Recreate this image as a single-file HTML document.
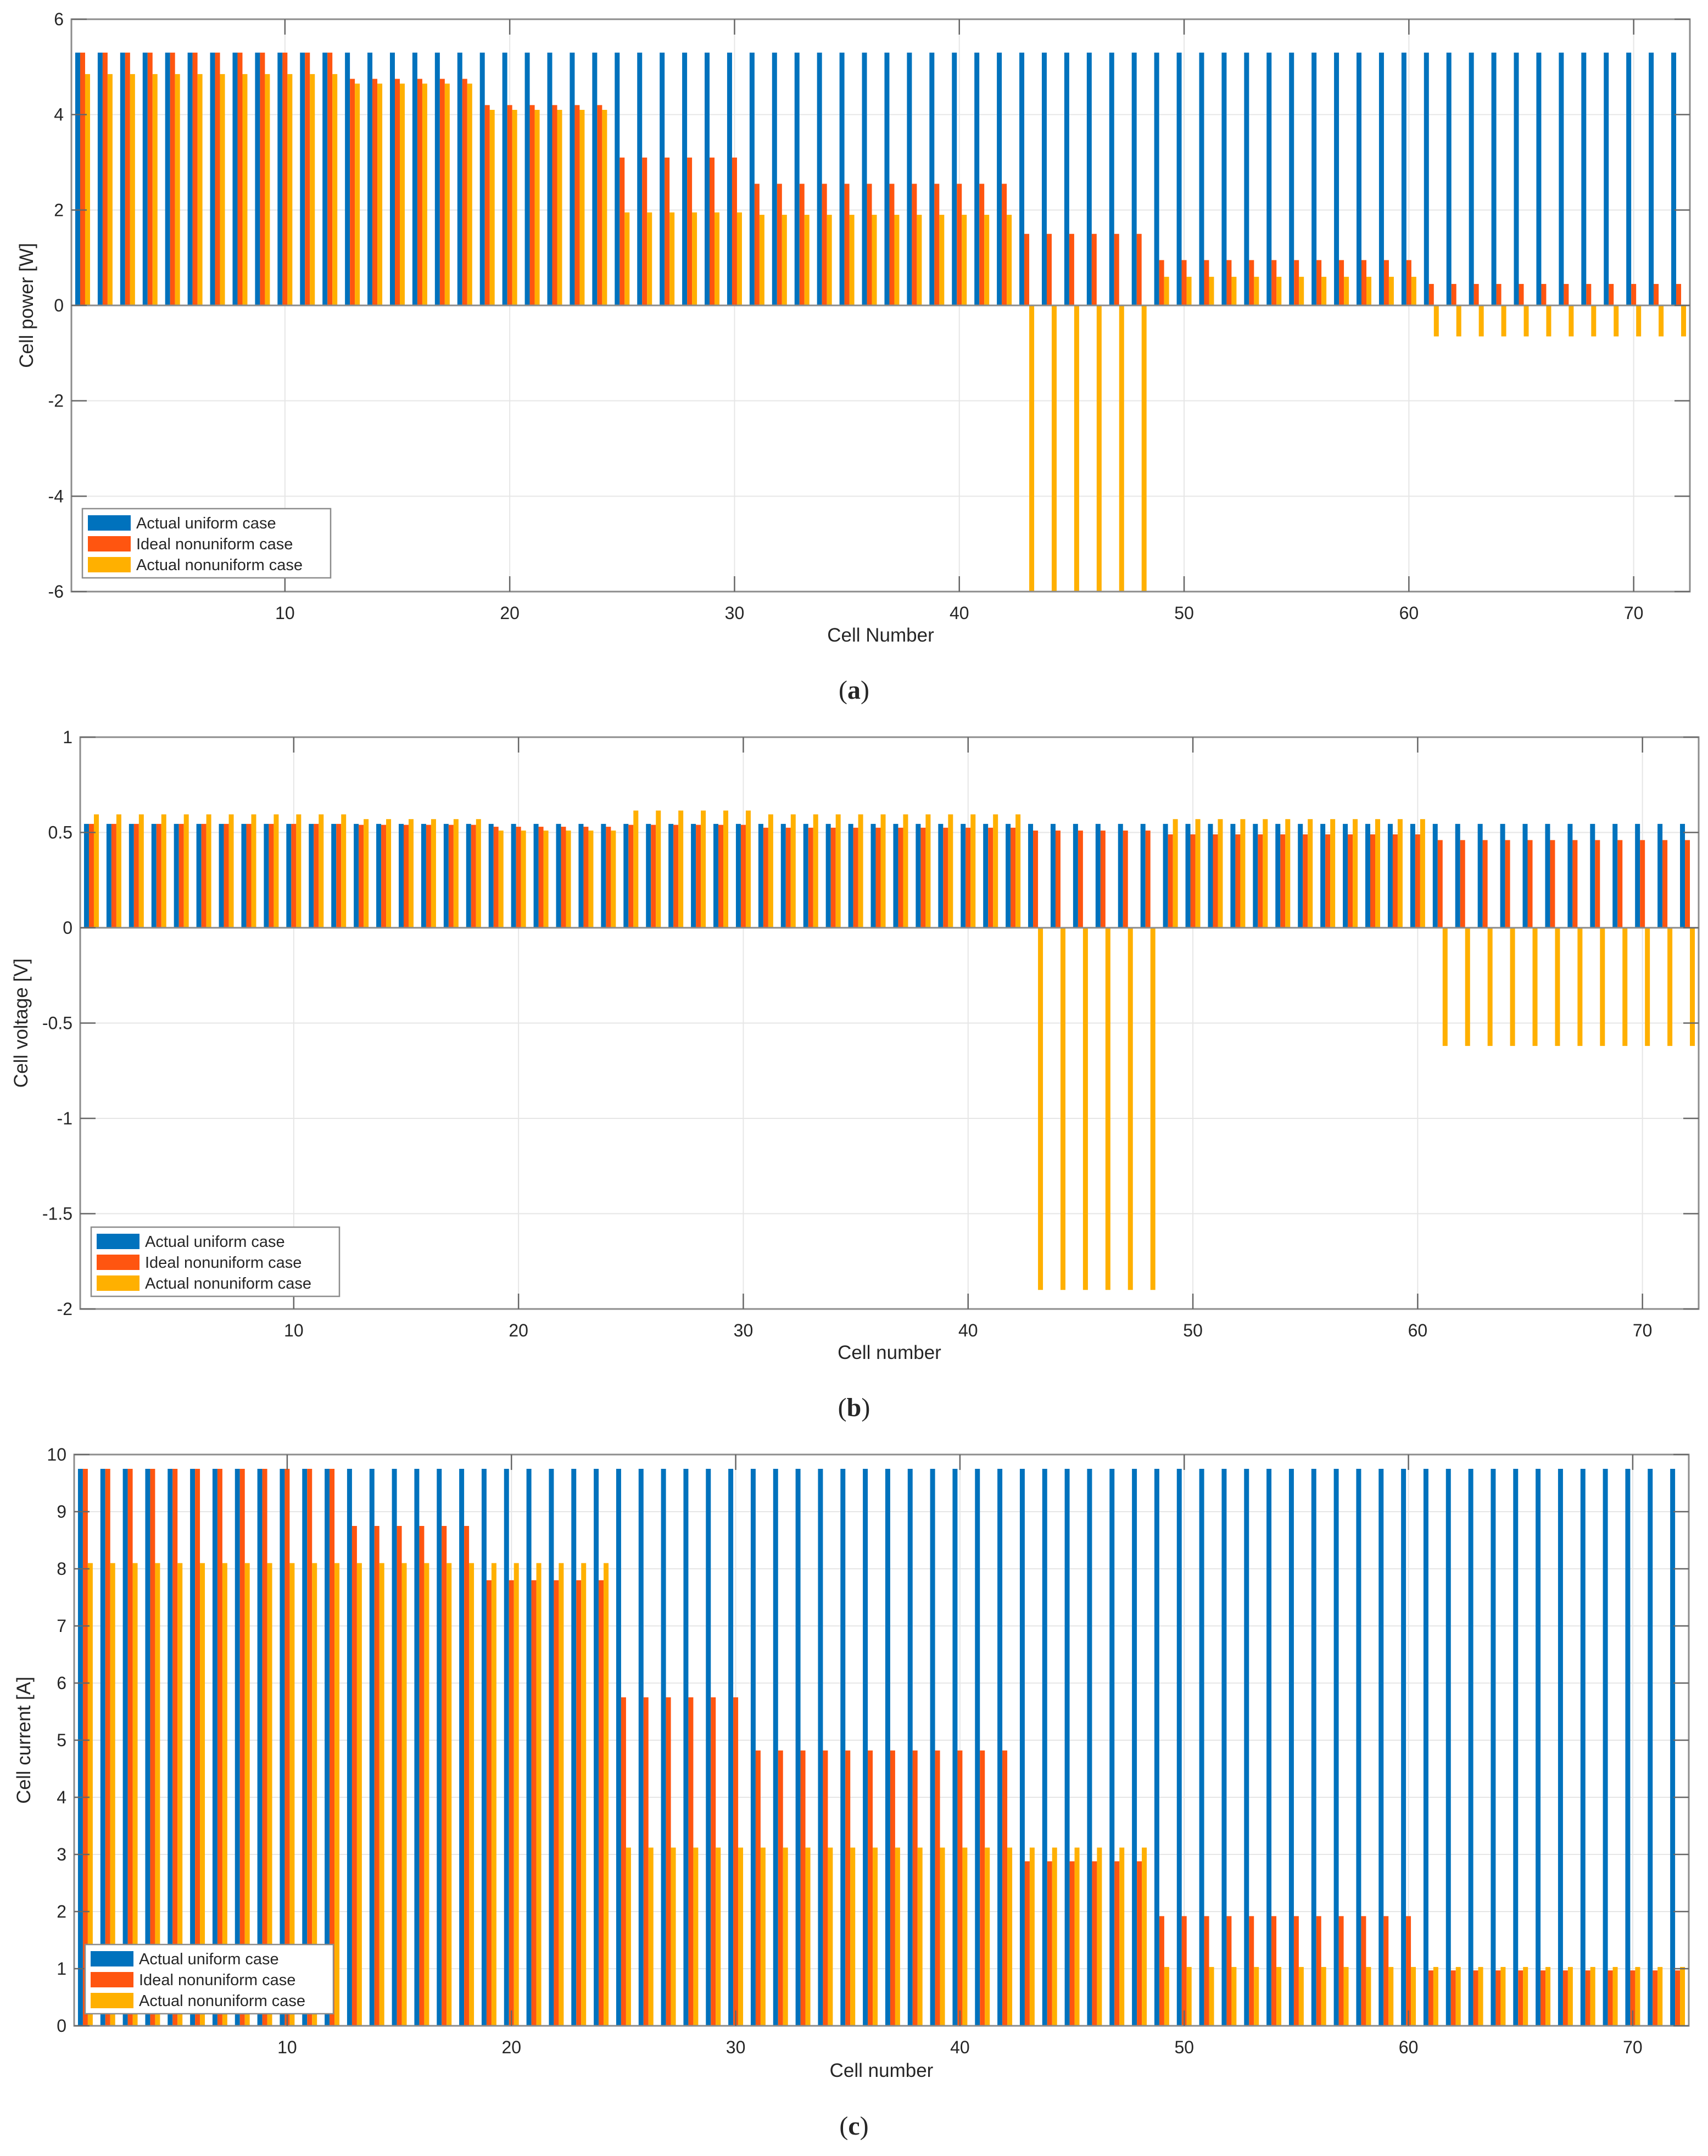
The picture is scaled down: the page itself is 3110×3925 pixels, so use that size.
<!DOCTYPE html>
<html><head><meta charset="utf-8"><style>
html,body{margin:0;padding:0;background:#fff}
svg{display:block}
text{font-family:"Liberation Sans",sans-serif;fill:#262626}
</style></head><body>
<svg id="fig" width="3110" height="3925" viewBox="0 0 3110 3925" xmlns="http://www.w3.org/2000/svg"></svg>
<script>
const cells = Array.from({length:72},(_,i)=>i+1);
const groupLevels = [1,13,19,25,31,43,49,61]; // group start cells
// power (W)
const powUniform = [5.3,5.3,5.3,5.3,5.3,5.3,5.3,5.3];
const powIdeal   = [5.3,4.75,4.2,3.1,2.55,1.5,0.95,0.45];
const powActual  = [4.85,4.65,4.1,1.95,1.9,-6.5,0.6,-0.65];
// voltage (V)
const volUniform = [0.545,0.545,0.545,0.545,0.545,0.545,0.545,0.545];
const volIdeal   = [0.545,0.54,0.53,0.54,0.525,0.51,0.49,0.46];
const volActual  = [0.595,0.57,0.51,0.615,0.595,-1.9,0.57,-0.62];
// current (A)
const curUniform = [9.75,9.75,9.75,9.75,9.75,9.75,9.75,9.75];
const curIdeal   = [9.75,8.75,7.8,5.75,4.82,2.88,1.92,0.97];
const curActual  = [8.1,8.1,8.1,3.12,3.12,3.12,1.03,1.03];
const xTicks = [10,20,30,40,50,60,70];
const powTicks = [-6,-4,-2,0,2,4,6];
const volTicks = [-2,-1.5,-1,-0.5,0,0.5,1];
const curTicks = [0,1,2,3,4,5,6,7,8,9,10];
const legendLabels = ["Actual uniform case","Ideal nonuniform case","Actual nonuniform case"];
const colors = ["#0072BD","#FF5510","#FFB000"];

const NS="http://www.w3.org/2000/svg";
const svg=document.getElementById('fig');
function mk(tag,attrs,parent){const e=document.createElementNS(NS,tag);for(const k in attrs)e.setAttribute(k,attrs[k]);(parent||svg).appendChild(e);return e;}
function expand(levels,c){let g=0;for(let i=0;i<groupLevels.length;i++)if(c>=groupLevels[i])g=i;return levels[g];}

function panel(cfg){
  const g=mk('g',{});
  
  
  const {L,R,T,B,ymin,ymax}=cfg;
  const sx=v=>L+(v-0.5)/(72)*(R-L);
  const sy=v=>B-(v-ymin)/(ymax-ymin)*(B-T);
  // grid
  cfg.yticks.forEach(t=>{const y=sy(t);
    const ln=mk('line',{x1:L,x2:R,y1:y,y2:y,stroke:'#e6e6e6','stroke-width':2},g);
    });
  xTicks.forEach(t=>{const x=sx(t);
    const ln=mk('line',{x1:x,x2:x,y1:T,y2:B,stroke:'#e6e6e6','stroke-width':2},g);
    });
  // bars
  const bw=0.22;
  const series=[cfg.s1,cfg.s2,cfg.s3];
  const clip='clip'+cfg.name;
  const cp=mk('clipPath',{id:clip},g);mk('rect',{x:L,y:T,width:R-L,height:B-T},cp);
  const bg=mk('g',{'clip-path':`url(#${clip})`},g);
  cells.forEach(c=>{
    series.forEach((s,k)=>{
      const v=expand(s,c);
      const xc=c+(k-1)*bw;
      const x0=sx(xc-bw/2),x1=sx(xc+bw/2);
      const base=Math.max(ymin,Math.min(ymax,0));
      const y0=sy(base),yv=sy(v);
      const r=mk('rect',{x:x0,y:Math.min(y0,yv),width:x1-x0,height:Math.abs(yv-y0),fill:colors[k]},bg);
      
      
    });
  });
  // zero baseline
  if(ymin<0){const y=sy(0);mk('line',{x1:L,x2:R,y1:y,y2:y,stroke:'#8c8c8c','stroke-width':3},g);}
  // box
  const box=mk('rect',{x:L,y:T,width:R-L,height:B-T,fill:'none',stroke:'#8c8c8c','stroke-width':3},g);
  
  // ticks
  cfg.yticks.forEach(t=>{const y=sy(t);
    mk('line',{x1:L,x2:L+28,y1:y,y2:y,stroke:'#666','stroke-width':2.5},g);
    mk('line',{x1:R,x2:R-28,y1:y,y2:y,stroke:'#666','stroke-width':2.5},g);
    const tx=mk('text',{x:L-14,y:y+11,'text-anchor':'end','font-size':32},g);tx.textContent=String(t);
    });
  xTicks.forEach(t=>{const x=sx(t);
    mk('line',{x1:x,x2:x,y1:B,y2:B-28,stroke:'#666','stroke-width':2.5},g);
    mk('line',{x1:x,x2:x,y1:T,y2:T+28,stroke:'#666','stroke-width':2.5},g);
    const tx=mk('text',{x:x,y:B+50,'text-anchor':'middle','font-size':32},g);tx.textContent=String(t);
    });
  // labels
  const xl=mk('text',{x:(L+R)/2,y:cfg.xlY,'text-anchor':'middle','font-size':35},g);xl.textContent=cfg.xlabel;
  
  const yl=mk('text',{x:0,y:0,'text-anchor':'middle','font-size':35,transform:`translate(${cfg.ylX},${(T+B)/2}) rotate(-90)`},g);yl.textContent=cfg.ylabel;
  
  const cap=mk('text',{x:1555,y:cfg.capY,'text-anchor':'middle','font-size':48,style:'font-family:"Liberation Serif",serif'},g);
  cap.innerHTML='(<tspan font-weight="bold">'+cfg.cap+'</tspan>)';
  
  // legend
  const lg=mk('g',{},g);
  
  const [lx,ly]=cfg.leg;
  mk('rect',{x:lx,y:ly,width:452,height:126,fill:'#fff',stroke:'#8c8c8c','stroke-width':2.5},lg);
  legendLabels.forEach((lab,k)=>{
    const e=mk('g',{},lg);
    
    mk('rect',{x:lx+10,y:ly+12+k*38,width:78,height:28,fill:colors[k]},e);
    const t=mk('text',{x:lx+98,y:ly+36+k*38,'font-size':29},e);t.textContent=lab;
  });
}
panel({name:'power-panel',L:130,R:3077,T:35,B:1077,ymin:-6,ymax:6,yticks:powTicks,s1:powUniform,s2:powIdeal,s3:powActual,
  xlabel:'Cell Number',ylabel:'Cell power [W]',xlY:1168,ylX:60,capY:1272,cap:'a',leg:[150,926]});
panel({name:'voltage-panel',L:146,R:3093,T:1342,B:2383,ymin:-2,ymax:1,yticks:volTicks,s1:volUniform,s2:volIdeal,s3:volActual,
  xlabel:'Cell number',ylabel:'Cell voltage [V]',xlY:2474,ylX:50,capY:2578,cap:'b',leg:[166,2234]});
panel({name:'current-panel',L:135,R:3075,T:2648,B:3688,ymin:0,ymax:10,yticks:curTicks,s1:curUniform,s2:curIdeal,s3:curActual,
  xlabel:'Cell number',ylabel:'Cell current [A]',xlY:3781,ylX:55,capY:3886,cap:'c',leg:[155,3540]});
</script>
</body></html>
